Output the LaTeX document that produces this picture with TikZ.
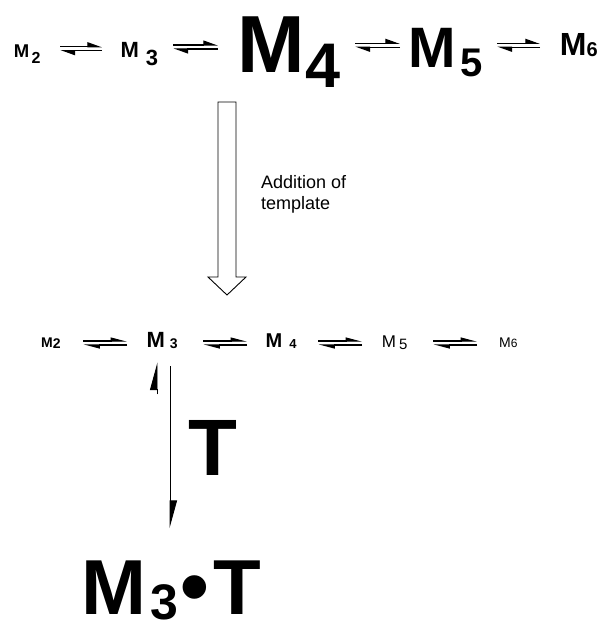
\documentclass[tikz,border=0pt]{standalone}
\usepackage{fontspec}
\setmainfont{Liberation Sans}
\usetikzlibrary{arrows.meta}

% monomer label: M size, index size, kern, drop of index, index
\newcommand{\mspec}[5]{\fontsize{#1bp}{#1bp}\selectfont M\kern#3bp\raisebox{-#4bp}{\fontsize{#2bp}{#2bp}\selectfont #5}}
% equilibrium harpoons between two nodes: style, left, right, y, left gap, right gap
\newcommand{\equil}[6][eqtop]{%
  \draw[#1] ([xshift=#5bp]#2.east |- 0,#4) -- ([xshift=-#6bp]#3.west |- 0,#4);
  \draw[#1] ([xshift=-#6bp]#3.west |- 0,#4+4) -- ([xshift=#5bp]#2.east |- 0,#4+4);}

\begin{document}
\begin{tikzpicture}[
    x=1bp, y=-1bp,
    sp/.style={inner sep=0pt, anchor=base west, font=\bfseries},
    spthin/.style={inner sep=0pt, anchor=base west},
    eqtop/.style={line width=1.2bp, -{Triangle[left,length=13bp,width=9bp]}},
    eqmid/.style={line width=1.2bp, -{Triangle[left,length=14bp,width=7bp]}},
    hollow/.style={draw=black, line width=0.9bp, fill=white},
    bind/.style={line width=0.9bp, -{Triangle[left,length=26bp,width=14bp]}},
    lbl/.style={inner sep=0pt, align=left, font=\fontsize{18bp}{21.7bp}\selectfont},
  ]
  \useasboundingbox (0,0) rectangle (606,627);

  % ---- top row: free monomer distribution, peaked at M4
  \node[sp] (m2a) at (13.6,57.3) {\mspec{18.5}{16}{2.5}{6}{2}};
  \node[sp] (m3a) at (120.4,57.3) {\mspec{22}{22}{7}{8}{3}};
  \node[sp] (m4a) at (237,73) {\mspec{81}{63}{1}{15}{4}};
  \node[sp] (m5a) at (408,68) {\mspec{57}{40}{5}{9}{5}};
  \node[sp] (m6a) at (559.7,56) {\mspec{32}{20}{0}{1}{6}};
  \equil{m2a}{m3a}{46.7}{19.6}{18.4}
  \equil{m3a}{m4a}{45}{15}{19}
  \equil{m4a}{m5a}{43.3}{14.5}{8}
  \equil{m5a}{m6a}{43.3}{14.3}{19.7}

  % ---- template added
  \coordinate (tmpltop) at (227,102);
  \draw[hollow] (tmpltop) ++(-9,0) -- ++(18,0) -- ++(0,175) -- ++(10,0)
    -- ++(-19,18) -- ++(-19,-18) -- ++(10,0) -- cycle;
  \node[lbl, anchor=north west] (addtmpl) at (261,175) {Addition of\\template};

  % ---- middle row: distribution shifted to M3
  \node[sp] (m2b) at (41,347) {\mspec{14}{14}{0}{1}{2}};
  \node[sp] (m3b) at (146.4,347) {\mspec{22}{14}{5}{1}{3}};
  \node[sp] (m4b) at (265.5,347) {\mspec{20}{13}{7}{1}{4}};
  \node[spthin] (m5b) at (381.7,347) {\mspec{17}{15}{3}{2}{5}};
  \node[spthin] (m6b) at (499,347) {\mspec{14}{12}{0}{0}{6}};
  \equil[eqmid]{m2b}{m3b}{341}{22.6}{19.4}
  \equil[eqmid]{m3b}{m4b}{341}{25.5}{18.5}
  \equil[eqmid]{m4b}{m5b}{341}{21.6}{19.7}
  \equil[eqmid]{m5b}{m6b}{341}{25.8}{22}

  % ---- binding of T to M3
  \node[sp] (m3t) at (81.3,614)
    {\mspec{78}{50}{3.7}{5}{3}\kern3bp{\fontsize{82bp}{82bp}\selectfont •}\kern4bp T};
  \node[sp] (tlbl) at (188,475) {\fontsize{80bp}{80bp}\selectfont T};
  \coordinate (bindtop) at ([shift={(23.6,18)}]m3b.south west);
  \draw[bind, shorten >=32bp] (bindtop) -- (bindtop |- m3t.north);
  \draw[bind] ([shift={(10.6,46)}]m3b.south west) -- ++(0,-32);
\end{tikzpicture}
\end{document}
